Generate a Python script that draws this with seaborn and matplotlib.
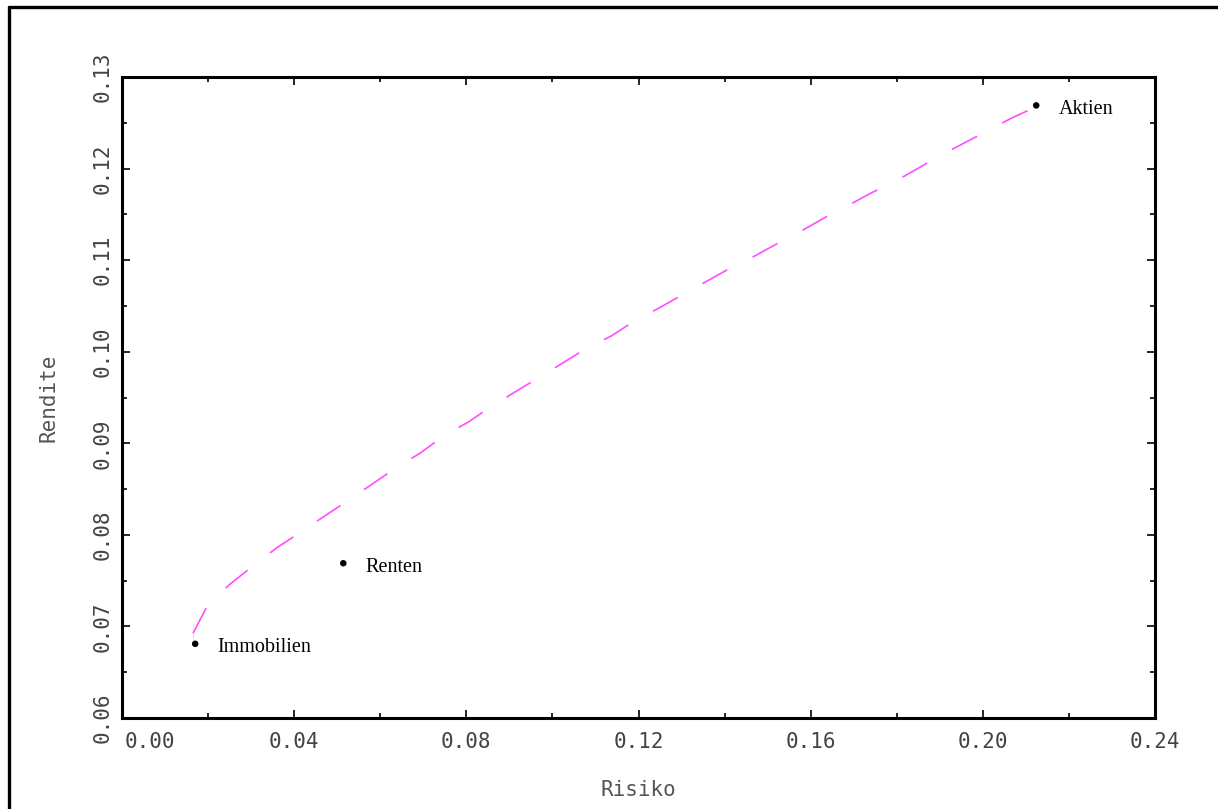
import matplotlib
matplotlib.use("Agg")
import matplotlib.pyplot as plt
from matplotlib.lines import Line2D
from matplotlib.ticker import MultipleLocator, FormatStrFormatter
import matplotlib.transforms as mtransforms
import seaborn as sns
import pandas as pd

# efficient frontier (risk, return)
frontier_risk = [0.0165, 0.0165, 0.0202, 0.0253, 0.0307, 0.0360, 0.0418, 0.0472,
                 0.0530, 0.0583, 0.0639, 0.0692, 0.0750, 0.0804, 0.0860, 0.0913,
                 0.0969, 0.1025, 0.1080, 0.1136, 0.1192, 0.1245, 0.1301, 0.1355,
                 0.1408, 0.1464, 0.1522, 0.1575, 0.1631, 0.1684, 0.1743, 0.1796,
                 0.1852, 0.1908, 0.1961, 0.2014, 0.2066, 0.2117, 0.2124]
frontier_return = [0.0681, 0.0704, 0.0726, 0.0747, 0.0767, 0.0786, 0.0804, 0.0821,
                   0.0839, 0.0856, 0.0874, 0.0889, 0.0909, 0.0923, 0.0941, 0.0956,
                   0.0972, 0.0988, 0.1004, 0.1017, 0.1034, 0.1047, 0.1062, 0.1076,
                   0.1090, 0.1103, 0.1118, 0.1131, 0.1146, 0.1159, 0.1174, 0.1186,
                   0.1201, 0.1216, 0.1229, 0.1242, 0.1255, 0.1266, 0.1269]

# single assets
asset_names = ["Aktien", "Renten", "Immobilien"]
asset_risk = [0.2124, 0.0514, 0.0170]
asset_return = [0.1269, 0.0769, 0.0681]

sns.set_style("ticks")
plt.rcParams["font.family"] = ["DejaVu Sans Mono", "DejaVu Sans"]

fig = plt.figure(figsize=(12.18, 8.09), dpi=100)
ax = fig.add_axes([0.1002, 0.1125, 0.8481, 0.7923])

frontier = pd.DataFrame({"risk": frontier_risk, "ret": frontier_return})
sns.lineplot(data=frontier, x="risk", y="ret", sort=False, ax=ax,
             color="#ff4dff", lw=1.2, linestyle=(0, (17, 17)))

assets = pd.DataFrame({"risk": asset_risk, "ret": asset_return, "name": asset_names})
sns.scatterplot(data=assets, x="risk", y="ret", ax=ax, color="black",
                s=22, edgecolor="none", zorder=5)
for _, row in assets.iterrows():
    ax.annotate(row["name"], (row["risk"], row["ret"]), xytext=(16, -3),
                textcoords="offset points", va="center", ha="left",
                fontsize=14.5, family="Liberation Serif", color="black")

ax.set_xlim(0, 0.24)
ax.set_ylim(0.06, 0.13)
ax.xaxis.set_major_locator(MultipleLocator(0.04))
ax.xaxis.set_minor_locator(MultipleLocator(0.02))
ax.yaxis.set_major_locator(MultipleLocator(0.01))
ax.yaxis.set_minor_locator(MultipleLocator(0.005))
ax.xaxis.set_major_formatter(FormatStrFormatter("%.2f"))
ax.yaxis.set_major_formatter(FormatStrFormatter("%.2f"))

ax.tick_params(which="both", direction="in", top=True, right=True, width=1.2,
               colors="black", labelcolor="#444444", labelsize=15)
ax.tick_params(which="major", length=6)
ax.tick_params(which="minor", length=3.5)
ax.tick_params(axis="x", pad=10)
ax.tick_params(axis="y", pad=7)

for sp in ax.spines.values():
    sp.set_linewidth(2.2)
    sp.set_color("black")

ax.set_xlabel("Risiko", fontsize=15, color="#555555", labelpad=20)
ax.set_ylabel("Rendite", fontsize=15, color="#555555", labelpad=24)

# outer frame of the original screenshot (top and left edges)
fig.add_artist(Line2D([8.5 / 1218, 1.0], [1 - 6.5 / 809, 1 - 6.5 / 809],
                      color="black", lw=2.4, transform=fig.transFigure))
fig.add_artist(Line2D([8.5 / 1218, 8.5 / 1218], [0.0, 1 - 6.5 / 809],
                      color="black", lw=2.4, transform=fig.transFigure))

fig.canvas.draw()
for lab in ax.get_yticklabels():
    lab.set_rotation(90)
    lab.set_va("center")
# the 0.00 label sits right of its tick so it clears the rotated 0.06
for lab in ax.get_xticklabels():
    if lab.get_text() == "0.00":
        lab.set_ha("left")
        lab.set_transform(lab.get_transform() +
                          mtransforms.ScaledTranslation(3 / 100, 0, fig.dpi_scale_trans))

fig.savefig("out.png", dpi=100)
